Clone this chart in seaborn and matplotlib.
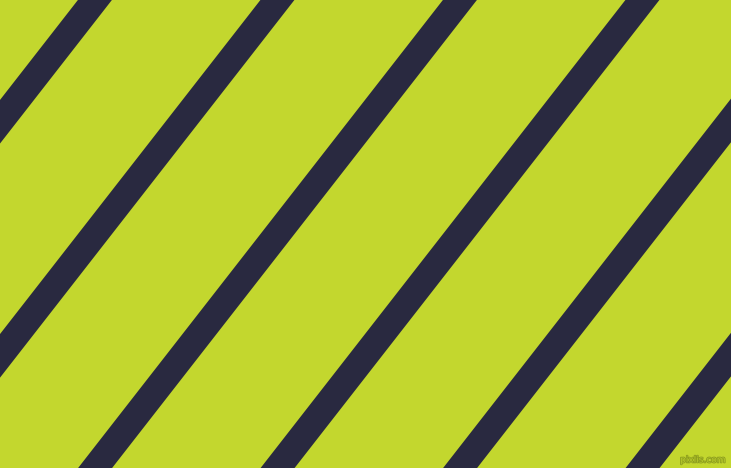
import numpy as np
import pandas as pd
import matplotlib
matplotlib.use("Agg")
import matplotlib.pyplot as plt
import matplotlib.patheffects as pe
import seaborn as sns

# stripe centres where they cross the top edge (pixels from the left)
stripe_top_x = [94.9, 277.4, 459.9, 642.4, 824.9, 1007.4]
# horizontal shift per pixel going down
stripe_slope = 0.7795
# horizontal thickness of a stripe, pixels
stripe_width_px = 34

width, height = 731, 468
green = "#C3D72E"
navy = "#292940"

# each stripe is drawn as a filled band (min..max of its two edges),
# a plain thick line gets cut short at the canvas border by Agg
rows = []
for i, x0 in enumerate(stripe_top_x):
    for y in (-300, height + 300):
        for side in (-0.5, 0.5):
            rows.append({"stripe": i, "y": y,
                         "x": x0 - stripe_slope * y + side * stripe_width_px})
df = pd.DataFrame(rows)

sns.set_theme(style="white")

fig = plt.figure(figsize=(width / 100, height / 100), dpi=100)
fig.patch.set_facecolor(green)
ax = fig.add_axes([0, 0, 1, 1])
ax.set_facecolor(green)

sns.lineplot(
    data=df, x="x", y="y", hue="stripe", orient="y",
    errorbar=("pi", 100), palette=[navy] * len(stripe_top_x),
    linewidth=0, err_kws={"alpha": 1, "linewidth": 0},
    legend=False, ax=ax,
)

ax.set_xlim(0, width)
ax.set_ylim(height, 0)
ax.set_axis_off()

# watermark
ax.text(
    703, 460, "pixlis.com", fontsize=6.5, color="#B5C92A",
    ha="center", va="center", family="DejaVu Sans",
    path_effects=[pe.withStroke(linewidth=1.2, foreground="#8E9F1F")],
)

fig.savefig("out.png", dpi=100, facecolor=green)
